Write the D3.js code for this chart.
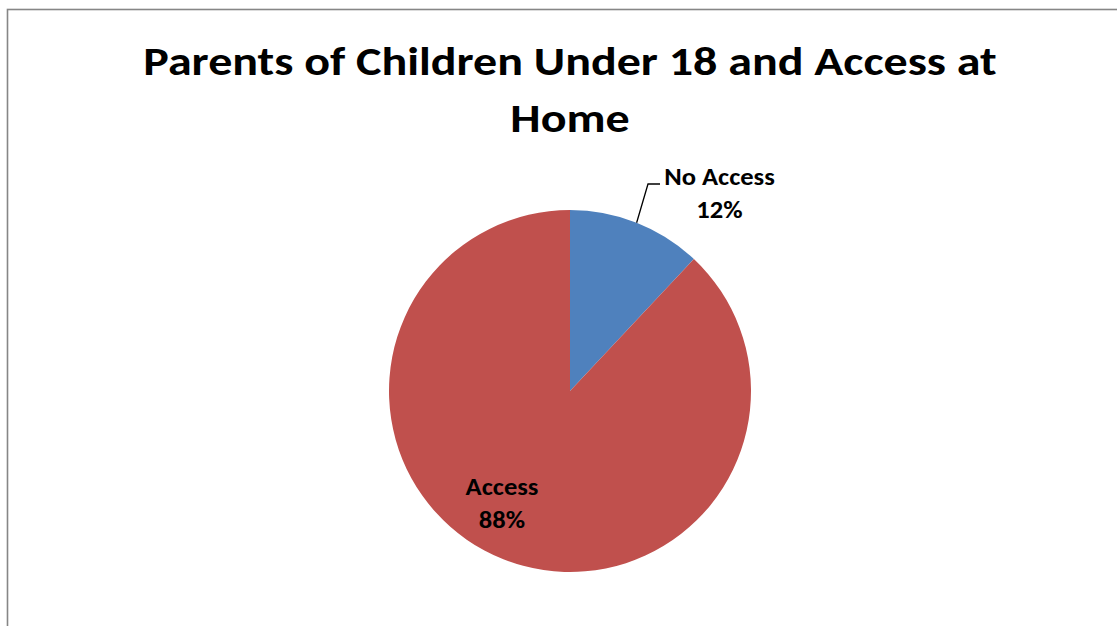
<!DOCTYPE html>
<html>
<head>
<meta charset="utf-8">
<script src="https://cdn.jsdelivr.net/npm/d3@7"></script>
<style>
  html, body { margin: 0; padding: 0; background: #fff; }
  svg { display: block; }
  text { font-family: Carlito, Lato, "Open Sans", sans-serif; font-weight: bold; fill: #000; }
</style>
</head>
<body>
<svg id="chart" width="1117" height="626"></svg>
<script>
// Survey split: parents of children under 18 with / without access at home
const categories = ["No Access", "Access"];
const values = [12, 88];
const colors = ["#4F81BD", "#C0504D"];
const titleLines = ["Parents of Children Under 18 and Access at", "Home"];

const W = 1117, H = 626;
const svg = d3.select("#chart");

// chart area frame (only top and left edges fall inside the view)
svg.append("rect")
  .attr("x", 7.5).attr("y", 9.5)
  .attr("width", W + 50).attr("height", H + 50)
  .attr("fill", "#fff")
  .attr("stroke", "#868686")
  .attr("stroke-width", 1.6);

// multi-line centred text block, widened slightly to the Calibri-like look
function textBlock(x, y0, lines, size, lineGap, sx) {
  const t = svg.append("text")
    .attr("text-anchor", "middle")
    .attr("font-size", size)
    .attr("transform", `translate(${x},0) scale(${sx},1)`);
  lines.forEach((s, i) => {
    t.append("tspan").attr("x", 0).attr("y", y0 + i * lineGap).text(s);
  });
  return t;
}

// title
textBlock(570, 75, titleLines, 40, 57, 1.2);

// pie
const cx = 570, cy = 391, R = 181;
const pie = d3.pie().sort(null).value(d => d.value);
const arc = d3.arc().innerRadius(0).outerRadius(R);
const data = categories.map((c, i) => ({ name: c, value: values[i], color: colors[i] }));
const arcs = pie(data);

const g = svg.append("g").attr("transform", `translate(${cx},${cy})`);
g.selectAll("path.slice")
  .data(arcs)
  .join("path")
  .attr("class", "slice")
  .attr("d", arc)
  .attr("fill", d => d.data.color);

const total = d3.sum(values);
const pct = v => Math.round(v / total * 100) + "%";

// leader line for the small slice, starting on the rim at its mid-angle
const a0 = arcs[0];
const mid = (a0.startAngle + a0.endAngle) / 2;
const rimX = R * Math.sin(mid), rimY = -R * Math.cos(mid);
g.append("polyline")
  .attr("points", [[rimX, rimY], [648 - cx, 184 - cy], [660 - cx, 184 - cy]].map(p => p.join(",")).join(" "))
  .attr("fill", "none")
  .attr("stroke", "#000")
  .attr("stroke-width", 1.3);

// outside label for the small slice, inside label for the large one
textBlock(719.5, 185, [a0.data.name, pct(a0.data.value)], 23.5, 33, 1.13);
const a1 = arcs[1];
textBlock(502, 495, [a1.data.name, pct(a1.data.value)], 23.5, 33, 1.13);
</script>
</body>
</html>
